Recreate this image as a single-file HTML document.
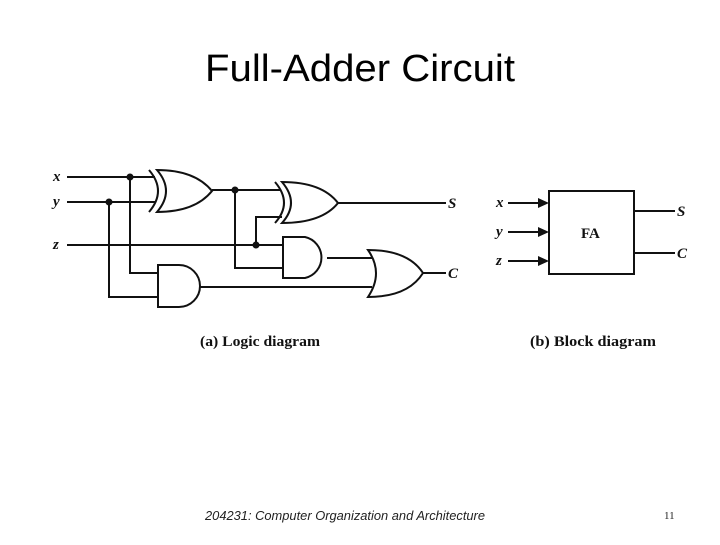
<!DOCTYPE html>
<html><head><style>
body{margin:0;width:720px;height:540px;background:#fff;overflow:hidden}
</style></head><body>
<svg width="720" height="540" viewBox="0 0 720 540" xmlns="http://www.w3.org/2000/svg">
<text x="360" y="81" font-family="Liberation Sans, sans-serif" font-size="38" text-anchor="middle" fill="#000" textLength="310" lengthAdjust="spacingAndGlyphs">Full-Adder Circuit</text>
<g fill="none" stroke="#111" stroke-width="2">
<path d="M67 177H155M67 202H155M67 245H283"/>
<path d="M130 177V273H158M109 202V297H158"/>
<path d="M157 170Q175 191 157 212Q195 212 212 191Q195 170 157 170Z"/>
<path d="M149 170Q167 191 149 212"/>
<path d="M212 190H280M235 190V268H283"/>
<path d="M282 182Q300 203 282 223Q322 223 338 203Q322 182 282 182Z"/>
<path d="M275 182Q293 203 275 223"/>
<path d="M256 245V217H282M338 203H446"/>
<path d="M283 237H305A21 21 0 0 1 305 278H283Z"/>
<path d="M327 258H372"/>
<path d="M158 265H179A21 21 0 0 1 179 307H158Z"/>
<path d="M200 287H372"/>
<path d="M368 250Q384 273 368 297Q408 297 423 273Q408 250 368 250Z"/>
<path d="M423 273H446"/>
<rect x="549" y="191" width="85" height="83"/>
<path d="M508 203H540M508 232H540M508 261H540M634 211H675M634 253H675"/>
</g>
<g fill="#111">
<circle cx="130" cy="177" r="3.5"/><circle cx="109" cy="202" r="3.5"/><circle cx="235" cy="190" r="3.5"/><circle cx="256" cy="245" r="3.5"/>
<path d="M549 203L538 198V208Z M549 232L538 227V237Z M549 261L538 256V266Z"/>
</g>
<g font-family="Liberation Serif, serif" font-style="italic" font-weight="bold" font-size="15" fill="#111">
<text x="53" y="181">x</text><text x="53" y="206">y</text><text x="53" y="249">z</text>
<text x="448" y="208">S</text><text x="448" y="278">C</text>
<text x="496" y="207">x</text><text x="496" y="236">y</text><text x="496" y="265">z</text>
<text x="677" y="216">S</text><text x="677" y="258">C</text>
</g>
<g font-family="Liberation Serif, serif" font-weight="bold" font-size="15" fill="#111">
<text x="581" y="238">FA</text>
<text x="200" y="346" textLength="120" lengthAdjust="spacingAndGlyphs">(a) Logic diagram</text>
<text x="530" y="346" textLength="126" lengthAdjust="spacingAndGlyphs">(b) Block diagram</text>
</g>
<text x="205" y="520" font-family="Liberation Sans, sans-serif" font-style="italic" font-size="13" fill="#222" textLength="280" lengthAdjust="spacingAndGlyphs">204231: Computer Organization and Architecture</text>
<text x="664" y="519" font-family="Liberation Serif, serif" font-size="11" fill="#222">11</text>
</svg>
</body></html>
